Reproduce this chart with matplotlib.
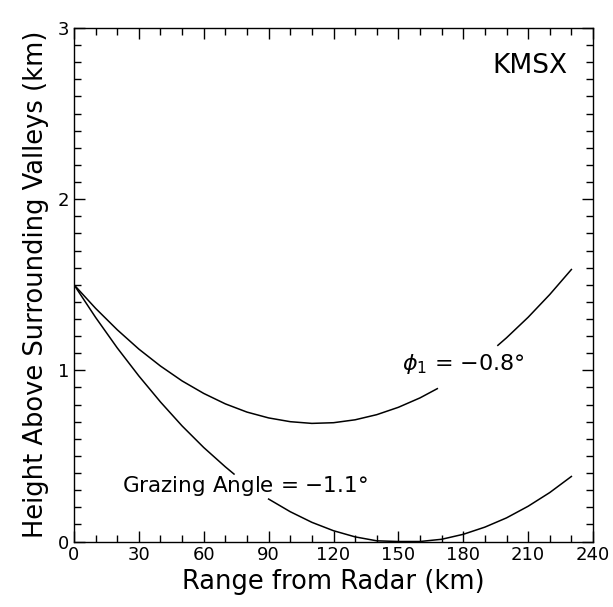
import numpy as np
import matplotlib
matplotlib.use("Agg")
import matplotlib.pyplot as plt
from matplotlib.ticker import MultipleLocator

# heights (km), beam at phi = -0.8 deg
range_08 = [0, 10, 20, 30, 40, 50, 60, 70, 80, 90, 100, 110, 120, 130, 140,
            150, 160, 168, 182, 196, 200, 210, 220, 230]
height_08 = [1.50, 1.362, 1.237, 1.124, 1.025, 0.938, 0.865, 0.804, 0.756,
             0.722, 0.700, 0.690, 0.694, 0.711, 0.741, 0.784, 0.839, 0.893,
             np.nan, 1.146, 1.190, 1.310, 1.443, 1.589]

# grazing angle = -1.1 deg
range_11 = [0, 10, 20, 30, 40, 50, 60, 70, 74, 82, 90, 100, 110, 120, 130,
            140, 150, 160, 170, 180, 190, 200, 210, 220, 230]
height_11 = [1.50, 1.309, 1.131, 0.967, 0.815, 0.675, 0.549, 0.436, 0.394,
             np.nan, 0.248, 0.174, 0.112, 0.063, 0.027, 0.004, 0.0, 0.0,
             0.013, 0.042, 0.084, 0.138, 0.206, 0.286, 0.380]

plt.rcParams['font.family'] = ['DejaVu Sans']

fig = plt.figure(figsize=(6.13, 6.07), dpi=100)
ax = fig.add_axes([0.1207, 0.1079, 0.8467, 0.8460])

ax.plot(range_08, height_08, color='black', lw=1.1)
ax.plot(range_11, height_11, color='black', lw=1.1)

ax.set_xlim(0, 240)
ax.set_ylim(0, 3)
ax.xaxis.set_major_locator(MultipleLocator(30))
ax.xaxis.set_minor_locator(MultipleLocator(10))
ax.yaxis.set_major_locator(MultipleLocator(1))
ax.yaxis.set_minor_locator(MultipleLocator(0.1))
ax.tick_params(which='both', direction='in', top=True, right=True,
               labelsize=13, width=1.0)
ax.tick_params(which='major', length=8)
ax.tick_params(which='minor', length=5)
for s in ax.spines.values():
    s.set_linewidth(1.0)

ax.set_xlabel("Range from Radar (km)", fontsize=18.5, labelpad=3)
ax.set_ylabel("Height Above Surrounding Valleys (km)", fontsize=18.5, labelpad=6)

ax.text(228, 2.78, "KMSX", fontsize=19, ha='right', va='center')
ax.text(180, 1.035, r"$\phi_1$ = $-$0.8°", fontsize=16, ha='center', va='center')
ax.text(22, 0.29, "Grazing Angle = $-$1.1°", fontsize=15.5, ha='left', va='baseline')

fig.savefig("out.png", dpi=100)
